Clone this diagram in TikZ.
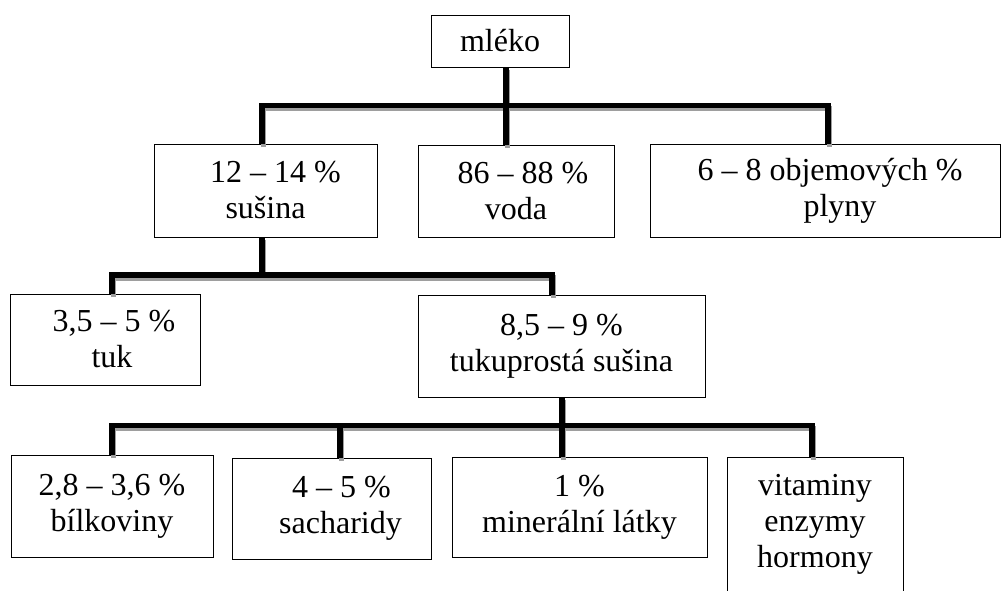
\documentclass[tikz,border=0pt]{standalone}
\usepackage{fontspec}
\setmainfont{Liberation Serif}
\usetikzlibrary{calc}
\tikzset{
  box/.style={draw=black, line width=0.9pt, fill=white, inner sep=0pt, outer sep=0pt,
    align=center, font=\fontsize{32}{36}\selectfont},
  conn/.style={draw=black, line width=5.5pt, line join=miter, line cap=butt},
}
\newcommand\myconnectors{%
  % level 1
  \draw[conn] ($(sus.north)+(-3.5,0)$) -- ($(sus.north |- b1)+(-3.5,0)$)
      -- ($(plyny.north |- b1)+(3,0)$) -- ($(plyny.north)+(3,0)$);
  \draw[conn] ($(mleko.south)+(6,0)$) -- ($(mleko.south |- b1)+(6,0)$);
  \draw[conn] ($(voda.north)+(-10,0)$) -- ($(voda.north |- b1)+(-10,0)$);
  % level 2
  \draw[conn] ($(tuk.north)+(7,0)$) -- ($(tuk.north |- b2)+(7,0)$)
      -- ($(tps.north |- b2)+(-9.5,0)$) -- ($(tps.north)+(-9.5,0)$);
  \draw[conn] ($(sus.south)+(-3.5,0)$) -- ($(sus.south |- b2)+(-3.5,0)$);
  % level 3
  \draw[conn] (bilk.north) -- (bilk.north |- b3)
      -- ($(vit.north |- b3)+(-3,0)$) -- ($(vit.north)+(-3,0)$);
  \draw[conn] ($(tps.south)+(0.5,0)$) -- ($(tps.south |- b3)+(0.5,0)$);
  \draw[conn] ($(sach.north)+(8.5,0)$) -- ($(sach.north |- b3)+(8.5,0)$);
  \draw[conn] ($(miner.north)+(-17.5,0)$) -- ($(miner.north |- b3)+(-17.5,0)$);
}
\begin{document}
\begin{tikzpicture}[x=1pt, y=-1pt]
\useasboundingbox (0,0) rectangle (1002,590);
\fill[white] (0,0) rectangle (1002,590);

\node[box, minimum width=138, minimum height=52] (mleko) at (500,41) {mléko};
\node[box, minimum width=223, minimum height=93] (sus) at (265.5,190.5) {\hspace*{20pt}12 – 14 \%\\sušina};
\node[box, minimum width=196, minimum height=92] (voda) at (516,191) {\hspace*{14pt}86 – 88 \%\\voda};
\node[box, minimum width=350, minimum height=93] (plyny) at (825,190.5) {\hspace*{10pt}6 – 8 objemových \%\\\hspace*{30pt}plyny};
\node[box, minimum width=190, minimum height=91] (tuk) at (105,339.5) {\hspace*{18pt}3,5 – 5 \%\\\hspace*{14pt}tuk};
\node[box, minimum width=287, minimum height=102] (tps) at (561.5,346) {8,5 – 9 \%\\tukuprostá sušina};
\node[box, minimum width=202, minimum height=102] (bilk) at (112,506) {2,8 – 3,6 \%\\bílkoviny};
\node[box, minimum width=199, minimum height=101] (sach) at (331.5,508.5) {\hspace*{20pt}4 – 5 \%\\\hspace*{18pt}sacharidy};
\node[box, minimum width=255, minimum height=100] (miner) at (579.5,507) {1 \%\\minerální látky};
\node[box, minimum width=176, minimum height=134] (vit) at (815,524) {vitaminy\\enzymy\\hormony};

\coordinate (b1) at (0,105.5);
\coordinate (b2) at (0,275);
\coordinate (b3) at (0,425.5);

\begin{scope}[transform canvas={xshift=1.5pt, yshift=-3pt}, conn/.append style={draw=black!38}]
  \myconnectors
\end{scope}
\myconnectors
\end{tikzpicture}
\end{document}
